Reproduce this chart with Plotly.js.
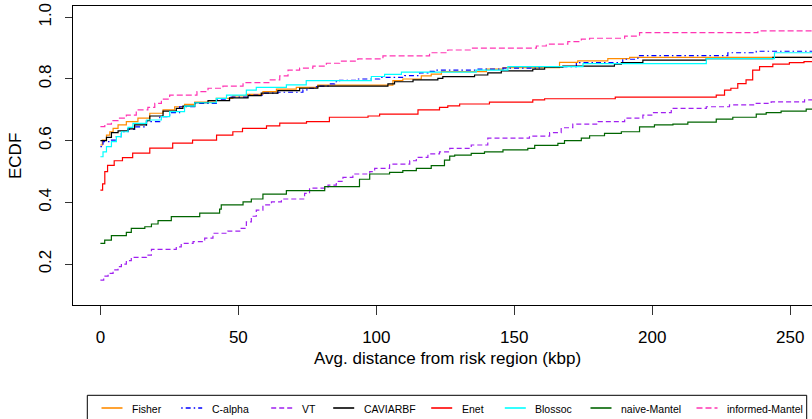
<!DOCTYPE html>
<html>
<head>
<meta charset="utf-8">
<script src="https://cdn.plot.ly/plotly-3.0.1.min.js"></script>
<style>html,body{margin:0;padding:0;background:#fff}#chart{width:812px;height:419px}</style>
</head>
<body>
<div id="chart"></div>
<script>
// ---- data ----
const seriesNames = ["Fisher", "C-alpha", "VT", "CAVIARBF", "Enet", "Blossoc", "naive-Mantel", "informed-Mantel"];

const fisherX = [0, 0.7, 2.2, 3.4, 4.6, 6.4, 9.4, 13.6, 17.9, 22.7, 26.9, 30.5, 34.2, 42, 48, 52.9, 58.9, 63.8, 71, 78.8, 106, 109.6, 116.3, 119.9, 123.6, 139.9, 145.9, 166.4, 173, 183.9, 191.8, 260];
const fisherY = [0.586, 0.602, 0.618, 0.629, 0.640, 0.651, 0.662, 0.673, 0.689, 0.700, 0.710, 0.718, 0.725, 0.737, 0.745, 0.750, 0.759, 0.767, 0.773, 0.780, 0.795, 0.800, 0.810, 0.816, 0.824, 0.832, 0.837, 0.854, 0.859, 0.866, 0.870, 0.870];

const calphaX = [0, 0.95, 3.4, 5.8, 7.6, 10, 12.4, 16.7, 21.5, 25.1, 28.7, 34.2, 42, 46.8, 53.5, 58.9, 64.3, 73.4, 75.2, 78.3, 82.5, 84.9, 86.7, 93.3, 101.2, 110.3, 115.7, 118.7, 121.1, 136.2, 145.9, 159, 172.5, 189.3, 194.8, 227.4, 237.7, 260];
const calphaY = [0.581, 0.597, 0.602, 0.613, 0.629, 0.637, 0.645, 0.662, 0.678, 0.691, 0.710, 0.721, 0.732, 0.741, 0.748, 0.754, 0.757, 0.765, 0.770, 0.777, 0.784, 0.791, 0.796, 0.800, 0.8055, 0.811, 0.820, 0.825, 0.829, 0.832, 0.835, 0.840, 0.853, 0.864, 0.876, 0.885, 0.890, 0.890];

const vtX = [0, 1.2, 2.8, 4.6, 6.4, 7.6, 9.4, 11.2, 16.7, 18.5, 27.5, 29.3, 33.6, 37.8, 40.8, 46.2, 50.5, 52.9, 54.7, 56.5, 58.9, 62, 65.6, 74, 75.8, 82.5, 85.5, 87.9, 91.5, 97.6, 99.4, 104.8, 112.1, 114.5, 118.7, 122.9, 126.6, 134.4, 140.4, 155.5, 162.8, 167, 171.2, 180.3, 190, 196.6, 200.2, 206.9, 219.6, 228, 237.1, 243.1, 255.2, 260];
const vtY = [0.148, 0.161, 0.170, 0.181, 0.192, 0.200, 0.211, 0.222, 0.229, 0.248, 0.256, 0.267, 0.273, 0.284, 0.300, 0.307, 0.316, 0.337, 0.355, 0.375, 0.392, 0.402, 0.411, 0.429, 0.446, 0.456, 0.468, 0.481, 0.492, 0.500, 0.5105, 0.524, 0.535, 0.546, 0.557, 0.564, 0.575, 0.586, 0.608, 0.615, 0.626, 0.642, 0.654, 0.662, 0.673, 0.683, 0.691, 0.705, 0.710, 0.716, 0.721, 0.726, 0.732, 0.732];

const caviarX = [0, 2.2, 4, 6.4, 10, 12.4, 16.7, 17.9, 22.7, 27.5, 29.9, 34.2, 39, 46.8, 53.5, 58.3, 64.3, 72.2, 78.8, 104.2, 106.6, 113.3, 122.3, 124.1, 135.6, 140.4, 145.3, 156.7, 161, 167.6, 186.3, 188.8, 196.6, 219.6, 243.7, 260];
const caviarY = [0.600, 0.611, 0.626, 0.632, 0.638, 0.651, 0.665, 0.680, 0.696, 0.705, 0.712, 0.723, 0.730, 0.739, 0.746, 0.754, 0.762, 0.770, 0.777, 0.784, 0.791, 0.797, 0.802, 0.8075, 0.813, 0.820, 0.826, 0.832, 0.838, 0.842, 0.848, 0.853, 0.861, 0.866, 0.870, 0.870];

const enetX = [0, 0.8, 1.6, 2.6, 5, 8, 11.7, 17.9, 26.2, 33.4, 42.1, 48, 51.5, 60.2, 65, 74.7, 83, 97, 101.2, 115.1, 122.9, 125.9, 130.2, 141, 156.7, 161, 186.6, 223.2, 226.2, 228.5, 231, 234, 236.4, 238.9, 243.7, 249.7, 255, 260];
const enetY = [0.44, 0.46, 0.50, 0.52, 0.535, 0.545, 0.56, 0.576, 0.592, 0.602, 0.618, 0.629, 0.64, 0.648, 0.657, 0.662, 0.676, 0.680, 0.686, 0.700, 0.708, 0.713, 0.719, 0.725, 0.732, 0.736, 0.741, 0.748, 0.764, 0.770, 0.785, 0.797, 0.829, 0.840, 0.848, 0.853, 0.856, 0.856];

const blossocX = [0, 0.95, 2.2, 4, 5.8, 7.6, 10, 11.8, 16.7, 22.1, 25.1, 30.5, 34.2, 42, 45.7, 52.9, 56.5, 67.4, 74.6, 98.2, 103, 109.1, 136.2, 147.7, 174.9, 219.6, 244.3, 260];
const blossocY = [0.548, 0.564, 0.581, 0.597, 0.613, 0.629, 0.643, 0.656, 0.667, 0.678, 0.694, 0.712, 0.723, 0.737, 0.748, 0.764, 0.773, 0.781, 0.795, 0.808, 0.815, 0.822, 0.829, 0.840, 0.850, 0.866, 0.885, 0.885];

const naiveX = [0, 1.56, 3.98, 9.4, 11.2, 16.1, 18.5, 20.9, 25.7, 36, 43.2, 43.8, 51.7, 54.7, 58.9, 67.4, 81.3, 93.9, 97.6, 104.8, 109.6, 114.5, 119.9, 124.7, 126.6, 128.4, 134.4, 139.2, 145.9, 154.9, 157.4, 165.8, 168.2, 174.3, 177.3, 182.7, 188.8, 195.4, 200.8, 207.5, 212.9, 223.2, 229.2, 237.7, 241.3, 246.7, 255.8, 260];
const naiveY = [0.267, 0.278, 0.292, 0.303, 0.316, 0.321, 0.330, 0.341, 0.354, 0.365, 0.378, 0.392, 0.402, 0.411, 0.427, 0.438, 0.451, 0.475, 0.492, 0.4975, 0.503, 0.5105, 0.519, 0.537, 0.550, 0.553, 0.559, 0.564, 0.570, 0.575, 0.585, 0.591, 0.600, 0.608, 0.616, 0.624, 0.629, 0.645, 0.651, 0.654, 0.660, 0.670, 0.676, 0.686, 0.691, 0.696, 0.702, 0.702];

const informedX = [0, 1.6, 4, 6.4, 9.4, 13, 17.2, 19.7, 22.1, 25.1, 35, 39, 44.4, 51.7, 61.3, 65, 68, 72.2, 77, 81.9, 86.7, 93.3, 102.4, 119.3, 125.9, 134.4, 158, 161.6, 169.4, 174.3, 177.3, 190, 195.4, 238.3, 260];
const informedY = [0.6455, 0.654, 0.665, 0.673, 0.683, 0.700, 0.708, 0.721, 0.735, 0.748, 0.759, 0.770, 0.777, 0.788, 0.797, 0.810, 0.829, 0.835, 0.842, 0.851, 0.858, 0.865, 0.875, 0.885, 0.894, 0.900, 0.907, 0.913, 0.921, 0.929, 0.932, 0.939, 0.950, 0.956, 0.956];

const xTickVals = [0, 50, 100, 150, 200, 250];
const yTickVals = [0.2, 0.4, 0.6, 0.8, 1.0];
const yTickText = ["0.2", "0.4", "0.6", "0.8", "1.0"];
const xLabel = "Avg. distance from risk region (kbp)";
const yLabel = "ECDF";

// ---- styles ----
const styles = [
  {color: "#FF8C00", dash: "solid"},
  {color: "#0000FF", dash: "1.5px,3px,5px,3px"},
  {color: "#A020F0", dash: "5px,3px"},
  {color: "#000000", dash: "solid"},
  {color: "#FF0000", dash: "solid"},
  {color: "#00FFFF", dash: "solid"},
  {color: "#006400", dash: "solid"},
  {color: "#FF34B3", dash: "6px,3px"}
];
const xs = [fisherX, calphaX, vtX, caviarX, enetX, blossocX, naiveX, informedX];
const ys = [fisherY, calphaY, vtY, caviarY, enetY, blossocY, naiveY, informedY];

const traces = seriesNames.map((n, i) => ({
  type: "scatter", mode: "lines", name: n, x: xs[i], y: ys[i],
  line: {shape: "hv", color: styles[i].color, dash: styles[i].dash, width: 1.2},
  showlegend: false, hoverinfo: "skip"
}));

// plot area in pixels
const L = 73, T = 6, W = 812 - 73, H = 305 - 6;
const px = p => (p - L) / W;
const py = p => (T + H - p) / H;
const font = "Liberation Sans, Arial, Helvetica, sans-serif";

const shapes = [{type: "rect", xref: "paper", yref: "paper", x0: px(87.3), x1: px(806.7), y0: py(395.3), y1: py(440), line: {color: "#000", width: 1}}];
const annotations = [
  {text: xLabel, xref: "paper", yref: "paper", x: px(447), y: py(358), xanchor: "center", yanchor: "middle", showarrow: false, font: {family: font, size: 17, color: "#000"}},
  {text: yLabel, xref: "paper", yref: "paper", x: px(15), y: py(156), xanchor: "center", yanchor: "middle", textangle: -90, showarrow: false, font: {family: font, size: 17, color: "#000"}}
];
const legendTextX = [130, 209.7, 299.7, 361.7, 459.7, 533.3, 619, 725];
seriesNames.forEach((n, i) => {
  const tx = legendTextX[i];
  shapes.push({type: "line", xref: "paper", yref: "paper", x0: px(tx - 28.5), x1: px(tx - 7.5), y0: py(408), y1: py(408),
    line: {color: styles[i].color, dash: styles[i].dash, width: 1.6}});
  annotations.push({text: n, xref: "paper", yref: "paper", x: px(tx), y: py(408.5), xanchor: "left", yanchor: "middle",
    showarrow: false, font: {family: font, size: 10.5, color: "#000"}});
});

const layout = {
  width: 812, height: 419,
  margin: {l: L, r: 0, t: T, b: 419 - 305, pad: 0},
  paper_bgcolor: "#fff", plot_bgcolor: "#fff",
  font: {family: font, color: "#000"},
  showlegend: false,
  xaxis: {
    range: [-9.93, 257.9], tickmode: "array", tickvals: xTickVals,
    ticks: "outside", ticklen: 9, tickwidth: 1, tickcolor: "#333",
    showline: true, linecolor: "#000", linewidth: 1, mirror: true,
    showgrid: false, zeroline: false, ticklabelstandoff: 8,
    tickfont: {family: font, size: 17, color: "#000"}
  },
  yaxis: {
    range: [0.0674, 1.0366], tickmode: "array", tickvals: yTickVals, ticktext: yTickText,
    tickangle: -90, ticks: "outside", ticklen: 7, tickwidth: 1, tickcolor: "#333",
    showline: true, linecolor: "#000", linewidth: 1, mirror: false,
    showgrid: false, zeroline: false, ticklabelstandoff: 7,
    tickfont: {family: font, size: 17, color: "#000"}
  },
  shapes: shapes,
  annotations: annotations
};

Plotly.newPlot("chart", traces, layout, {staticPlot: true, displayModeBar: false});
</script>
</body>
</html>
